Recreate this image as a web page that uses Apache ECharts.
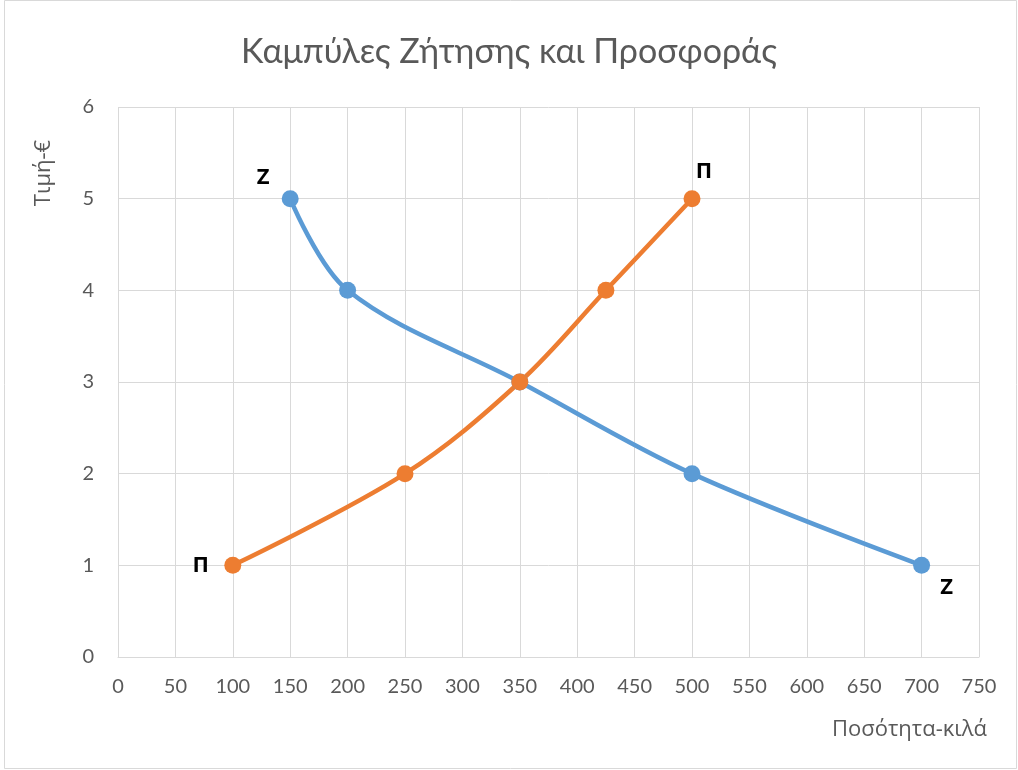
<!DOCTYPE html>
<html>
<head>
<meta charset="utf-8">
<script src="https://cdn.jsdelivr.net/npm/echarts@6/dist/echarts.min.js"></script>
<style>
  html, body { margin: 0; padding: 0; background: #fff; }
  #chart { width: 1018px; height: 770px; }
</style>
</head>
<body>
<div id="chart"></div>
<script>
// demand (Z) and supply (Π) points: [quantity, price]
var demandPoints = [[150, 5], [200, 4], [350, 3], [500, 2], [700, 1]];
var supplyPoints = [[100, 1], [250, 2], [350, 3], [425, 4], [500, 5]];
var demandLabel = "Z";
var supplyLabel = "Π";

var labelFont = { color: "#000", fontWeight: "bold", fontSize: 22, fontFamily: "Open Sans" };

function withEndLabels(points, text, firstOffset, lastOffset) {
  return points.map(function (p, i) {
    var item = { value: p };
    if (i === 0 || i === points.length - 1) {
      item.label = Object.assign({
        show: true,
        formatter: text,
        position: "inside",
        offset: i === 0 ? firstOffset : lastOffset
      }, labelFont);
    }
    return item;
  });
}

var chart = echarts.init(document.getElementById("chart"));
chart.setOption({
  backgroundColor: "#fff",
  animation: false,
  textStyle: { fontFamily: "Lato" },
  title: {
    text: "Καμπύλες Ζήτησης και Προσφοράς",
    left: "center",
    top: 30,
    textStyle: { fontSize: 34, fontWeight: "normal", color: "#595959", fontFamily: "Lato" }
  },
  graphic: [
    {
      type: "rect",
      shape: { x: 4.5, y: 0.5, width: 1012, height: 768 },
      style: { fill: "none", stroke: "#D9D9D9", lineWidth: 1 },
      silent: true
    },
    {
      // y axis title, rotated like the original
      type: "text",
      x: 44,
      y: 173,
      rotation: Math.PI / 2,
      style: {
        text: "Τιμή-€",
        fontSize: 22,
        fontFamily: "Open Sans",
        fill: "#595959",
        align: "center",
        verticalAlign: "middle"
      }
    }
  ],
  grid: { left: 118, right: 39, top: 107, bottom: 113 },
  xAxis: {
    type: "value",
    min: 0,
    max: 750,
    interval: 50,
    name: "Ποσότητα-κιλά",
    nameLocation: "end",
    nameGap: 0,
    nameTextStyle: {
      fontSize: 22, color: "#595959", fontFamily: "Open Sans",
      align: "right", verticalAlign: "top",
      padding: [62, -8, 0, 0]
    },
    axisLine: { lineStyle: { color: "#D9D9D9", width: 1 } },
    axisTick: { show: false },
    axisLabel: { fontSize: 20, color: "#595959", margin: 20 },
    splitLine: { show: true, lineStyle: { color: "#D9D9D9", width: 1 } }
  },
  yAxis: {
    type: "value",
    min: 0,
    max: 6,
    interval: 1,
    axisLine: { show: false },
    axisTick: { show: false },
    axisLabel: { fontSize: 20, color: "#595959", margin: 24 },
    splitLine: { show: true, lineStyle: { color: "#D9D9D9", width: 1 } }
  },
  series: [
    {
      name: "Ζήτηση",
      type: "line",
      smooth: 0.35,
      symbol: "circle",
      symbolSize: 17,
      showAllSymbol: true,
      lineStyle: { color: "#5B9BD5", width: 4.5 },
      itemStyle: { color: "#5B9BD5" },
      data: withEndLabels(demandPoints, demandLabel, [-27, -21], [25, 22])
    },
    {
      name: "Προσφορά",
      type: "line",
      smooth: 0.35,
      symbol: "circle",
      symbolSize: 17,
      showAllSymbol: true,
      lineStyle: { color: "#ED7D31", width: 4.5 },
      itemStyle: { color: "#ED7D31" },
      data: withEndLabels(supplyPoints, supplyLabel, [-32, 0], [12, -27])
    }
  ]
});
</script>
</body>
</html>
